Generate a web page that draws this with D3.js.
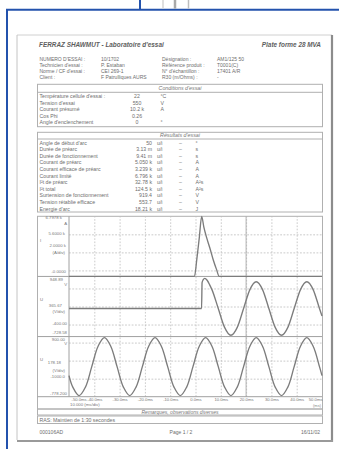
<!DOCTYPE html>
<html><head><meta charset="utf-8">
<script src="https://cdn.jsdelivr.net/npm/d3@7"></script>
<style>html,body{margin:0;padding:0;background:#fff;}svg{display:block;font-family:"Liberation Sans",Arial,sans-serif;}</style>
</head><body>
<script>
// ---------- document texts ----------
const headerLeft = "FERRAZ SHAWMUT - Laboratoire d'essai";
const headerRight = "Plate forme 28 MVA";
const infoLabels1 = ["NUMERO D'ESSAI :", "Technicien d'essai :", "Norme / CF d'essai :", "Client :"];
const infoValues1 = ["10/1702", "P. Estaban", "CEI 269-1", "F Patrulliques AURS"];
const infoLabels2 = ["Désignation :", "Référence produit :", "N° d'échantillon :", "R30 (m/Ohms) :"];
const infoValues2 = ["AM1/125 50", "T0001(C)", "17401 A/R", "-"];
const condLabels = ["Température cellule d'essai :", "Tension d'essai", "Courant présumé", "Cos Phi", "Angle d'enclenchement"];
const condValues = ["22", "550", "10.2 k", "0.26", "0"];
const condUnits = ["°C", "V", "A", "", "°"];
const resLabels = ["Angle de début d'arc", "Durée de préarc", "Durée de fonctionnement", "Courant de préarc",
  "Courant efficace de préarc", "Courant limité", "I²t de préarc", "I²t total",
  "Surtension de fonctionnement", "Tension rétablie efficace", "Energie d'arc"];
const resValues = ["50", "3.13 m", "9.41 m", "5.050 k", "3.239 k", "6.796 k", "32.78 k", "124.5 k", "919.4", "553.7", "18.21 k"];
const resUnits = ["°", "s", "s", "A", "A", "A", "A²s", "A²s", "V", "V", "J"];
const remarksTitle = "Remarques, observations diverses";
const remarksText = "RAS: Maintien de 1:30 secondes";
const footer = ["000106AD", "Page 1 / 2", "16/11/02"];

// ---------- chart data ----------
const xTicksMs = [-50, -40, -30, -20, -10, 0, 10, 20, 30, 40, 50];
const xTickLabels = ["-50.0ms", "-40.0ms", "-30.0ms", "-20.0ms", "-10.0ms", "0.0ms", "10.0ms", "20.0ms", "30.0ms", "40.0ms", "50.0ms"];
const currentMs = [-50, -0.4, 0.5, 1.5, 2.45, 3.3, 4.4, 5.7, 7.0, 8.3, 9.4, 50];
const currentKA = [0, 0, 1.9, 4.4, 6.796, 5.6, 4.4, 3.2, 1.9, 0.8, 0, 0];
const fuseMs = [-50, 2.4, 2.6, 3.0, 3.7, 4.6, 5.7, 6.5, 9, 11.5, 14, 16.5, 19, 21.5, 24, 26.5, 29, 31.5, 34, 36.5, 39, 41.5, 44, 46.5, 49, 50];
const fuseV = [0, 0, 790, 870, 919, 860, 705, 575, 0, -575, -815, -575, 0, 575, 815, 575, 0, -575, -815, -575, 0, 575, 815, 575, 0, -230];
const supplyMs = [-50, -48.5, -46, -43.5, -41, -38.5, -36, -33.5, -31, -28.5, -26, -23.5, -21, -18.5, -16, -13.5, -11, -8.5, -6, -3.5, -1, 1.5, 4, 6.5, 9, 11.5, 14, 16.5, 19, 21.5, 24, 26.5, 29, 31.5, 34, 36.5, 39, 41.5, 44, 46.5, 49, 50];
const supplyV = [-238, -544, -770, -544, 0, 544, 770, 544, 0, -544, -770, -544, 0, 544, 770, 544, 0, -544, -770, -544, 0, 544, 770, 544, 0, -544, -770, -544, 0, 544, 770, 544, 0, -544, -770, -544, 0, 544, 770, 544, 0, -238];
const ch1Labels = ["6.7978 k", "A", "5.6000 k", "I", "2.0000 k", "(A/div)", "-0.0000"];
const ch2Labels = ["948.89", "V", "U", "365.67", "(V/div)", "-400.00", "-728.58"];
const ch3Labels = ["900.00", "V", "U", "178.18", "(V/div)", "-1000.0", "-778.200"];
const xScaleLabel = "10.000 (ms/div)";

// ---------- drawing ----------
const W = 339, H = 449;
const svg = d3.select("body").append("svg").attr("width", W).attr("height", H);
svg.append("rect").attr("width", W).attr("height", H).attr("fill", "#fff");

svg.append("line").attr("x1", 7).attr("x2", 7).attr("y1", 9).attr("y2", H).attr("stroke", "#2352ad").attr("stroke-width", 2);
svg.append("line").attr("x1", 6).attr("x2", W).attr("y1", 9.7).attr("y2", 9.7).attr("stroke", "#2352ad").attr("stroke-width", 2);
svg.append("line").attr("x1", 140).attr("x2", 140).attr("y1", 0).attr("y2", 9).attr("stroke", "#2352ad").attr("stroke-width", 2);
[[163, "#d4d4d4", 1.5], [175, "#a9a9a9", 2.5], [188.5, "#bdbdbd", 1.5]].forEach(([x, c, w]) =>
  svg.append("line").attr("x1", x).attr("x2", x).attr("y1", 0).attr("y2", 8.7).attr("stroke", c).attr("stroke-width", w));

const page = svg.append("g");
page.append("line").attr("x1", 17).attr("x2", 332).attr("y1", 35).attr("y2", 35).attr("stroke", "#d0d0d0");
page.append("line").attr("x1", 17).attr("x2", 17).attr("y1", 35).attr("y2", 440).attr("stroke", "#c4c4c4");
page.append("line").attr("x1", 332).attr("x2", 332).attr("y1", 35).attr("y2", 442).attr("stroke", "#8c8c8c").attr("stroke-width", 2.2);
page.append("line").attr("x1", 17).attr("x2", 333).attr("y1", 441).attr("y2", 441).attr("stroke", "#9a9a9a").attr("stroke-width", 2);

const txt = (g, x, y, s, size, opts = {}) => g.append("text").attr("x", x).attr("y", y).text(s)
  .attr("font-size", size).attr("fill", opts.fill || "#6e6e6e")
  .attr("text-anchor", opts.anchor || "start")
  .attr("font-style", opts.italic ? "italic" : null)
  .attr("font-weight", opts.bold ? "bold" : null);

txt(svg, 39, 46.6, headerLeft, 6.4, {italic: true, bold: true, fill: "#5e5e5e"});
txt(svg, 321, 46.6, headerRight, 6.4, {italic: true, bold: true, fill: "#5e5e5e", anchor: "end"});

const infoY = [60.8, 66.8, 72.8, 79];
infoY.forEach((y, i) => {
  txt(svg, 39.5, y, infoLabels1[i], 5);
  txt(svg, 101, y, infoValues1[i], 5);
  txt(svg, 162, y, infoLabels2[i], 5);
  txt(svg, 217, y, infoValues2[i], 5);
});

function box(y0, y1, hdrBottom, title) {
  svg.append("rect").attr("x", 37.5).attr("y", y0).attr("width", 285).attr("height", y1 - y0)
    .attr("fill", "none").attr("stroke", "#b0b0b0").attr("stroke-width", 1);
  if (hdrBottom) {
    svg.append("line").attr("x1", 37.5).attr("x2", 322.5).attr("y1", hdrBottom).attr("y2", hdrBottom).attr("stroke", "#b0b0b0");
    txt(svg, 180, hdrBottom - 2, title, 5.3, {italic: true, anchor: "middle", fill: "#777"});
  }
}
box(84.3, 126.7, 92.3, "Conditions d'essai");
const condY = [96.6, 103, 109.3, 115.7, 122];
condY.forEach((y, i) => {
  txt(svg, 39.5, y + 1.8, condLabels[i], 5.2);
  txt(svg, 137, y + 1.8, condValues[i], 5.2, {anchor: "middle"});
  txt(svg, 160.5, y + 1.8, condUnits[i], 5.2);
});
box(132.3, 212, 139, "Résultats d'essai");
resLabels.forEach((l, i) => {
  const y = 142.7 + i * 6.6 + 1.8;
  txt(svg, 39.5, y, l, 5.2);
  txt(svg, 152, y, resValues[i], 5.2, {anchor: "end"});
  txt(svg, 157, y, "u/i", 5.2);
  txt(svg, 180.5, y, "–", 5.2, {anchor: "middle"});
  txt(svg, 195.5, y, resUnits[i], 5.2);
});

const L = 69, R = 322, T = 216.3, B = 396.7;
svg.append("rect").attr("x", 37.5).attr("y", T).attr("width", 285).attr("height", 409 - T)
  .attr("fill", "none").attr("stroke", "#b0b0b0");
const x = d3.scaleLinear().domain([-50, 50]).range([L, R]);
const panelH = (B - T) / 3;
const y1 = d3.scaleLinear().domain([0, 6.8]).range([T + panelH, T + 0.2]);
const y2 = d3.scaleLinear().domain([-854, 976]).range([T + 2 * panelH, T + panelH]);
const y3 = d3.scaleLinear().domain([-800, 800]).range([B, T + 2 * panelH]);
const yDiv = d3.scaleLinear().domain([0, 10]).range([B, T]);

const gx = svg.append("g").attr("transform", `translate(0,${B})`)
  .call(d3.axisBottom(x).tickValues(xTicksMs.slice(1, -1)).tickSize(-(B - T)).tickFormat(""));
gx.select(".domain").remove();
gx.selectAll(".tick line").attr("stroke", "#bcbcbc").attr("stroke-width", 0.8).attr("stroke-dasharray", "1.6,1.6");
const gy = svg.append("g").attr("transform", `translate(${L},0)`)
  .call(d3.axisLeft(yDiv).tickValues(d3.range(1, 10)).tickSize(-(R - L)).tickFormat(""));
gy.select(".domain").remove();
gy.selectAll(".tick line").attr("stroke", "#bcbcbc").attr("stroke-width", 0.8).attr("stroke-dasharray", "1.8,1.5");
svg.append("line").attr("x1", x(20)).attr("x2", x(20)).attr("y1", T).attr("y2", B).attr("stroke", "#aaaaaa").attr("stroke-width", 0.9);

svg.append("line").attr("x1", L).attr("x2", L).attr("y1", T).attr("y2", B).attr("stroke", "#a0a0a0");
[T + panelH, T + 2 * panelH, B].forEach(yy =>
  svg.append("line").attr("x1", 37.5).attr("x2", R).attr("y1", yy).attr("y2", yy).attr("stroke", "#a0a0a0").attr("stroke-width", 1));

const traceStyle = p => p.attr("fill", "none").attr("stroke", "#7c7c7c").attr("stroke-width", 1.35).attr("stroke-linejoin", "round");
traceStyle(svg.append("path").datum(currentMs.map((t, i) => [t, currentKA[i]]))
  .attr("d", d3.line().x(d => x(d[0])).y(d => y1(d[1])).curve(d3.curveMonotoneX)));
traceStyle(svg.append("path").datum(fuseMs.map((t, i) => [t, fuseV[i]]))
  .attr("d", d3.line().x(d => x(d[0])).y(d => y2(d[1])).curve(d3.curveMonotoneX)));
traceStyle(svg.append("path").datum(supplyMs.map((t, i) => [t, supplyV[i]]))
  .attr("d", d3.line().x(d => x(d[0])).y(d => y3(d[1])).curve(d3.curveCatmullRom.alpha(0.5))));

const annPos1 = [[62, 219], [67, 225], [65, 234.5], [40, 242, "start"], [66, 246.5], [65, 253.5], [66, 272.8]];
const annPos2 = [[63, 281], [67, 285.5], [40, 301, "start"], [62, 306.5], [65, 312.5], [67, 324.5], [67, 334]];
const annPos3 = [[65, 340.5], [67, 345], [40, 360.5, "start"], [61, 364], [65, 372], [65, 378], [67, 394.5]];
[[ch1Labels, annPos1], [ch2Labels, annPos2], [ch3Labels, annPos3]].forEach(([labs, pos]) =>
  labs.forEach((s, i) => txt(svg, pos[i][0], pos[i][1], s, 4.3, {anchor: pos[i][2] || "end", fill: "#777"})));

const gxl = svg.append("g").attr("transform", `translate(0,${B})`)
  .call(d3.axisBottom(x).tickValues(xTicksMs).tickSize(0).tickPadding(1.2).tickFormat((d, i) => xTickLabels[i]));
gxl.select(".domain").remove();
gxl.selectAll("text").attr("font-size", 4.2).attr("fill", "#777").attr("font-family", "Liberation Sans, Arial, sans-serif")
  .attr("text-anchor", (d, i) => i === 0 ? "start" : i === xTicksMs.length - 1 ? "end" : "middle")
  .attr("dx", (d, i) => i === 0 ? 2 : 0);
txt(svg, 70, 406, xScaleLabel, 4.3, {fill: "#777"});
txt(svg, 321, 406.5, "(ms)", 4, {anchor: "end", fill: "#888"});

svg.append("rect").attr("x", 37.5).attr("y", 409).attr("width", 285).attr("height", 6).attr("fill", "none").attr("stroke", "#b0b0b0");
txt(svg, 180, 413.6, remarksTitle, 5, {italic: true, anchor: "middle", fill: "#777"});
svg.append("rect").attr("x", 37.5).attr("y", 416).attr("width", 285).attr("height", 7.5).attr("fill", "none").attr("stroke", "#b0b0b0");
txt(svg, 39.5, 421.9, remarksText, 5.2);

txt(svg, 39.5, 433.6, footer[0], 5);
txt(svg, 181, 433.6, footer[1], 5, {anchor: "middle"});
txt(svg, 320, 433.6, footer[2], 5, {anchor: "end"});
</script>
</body></html>
